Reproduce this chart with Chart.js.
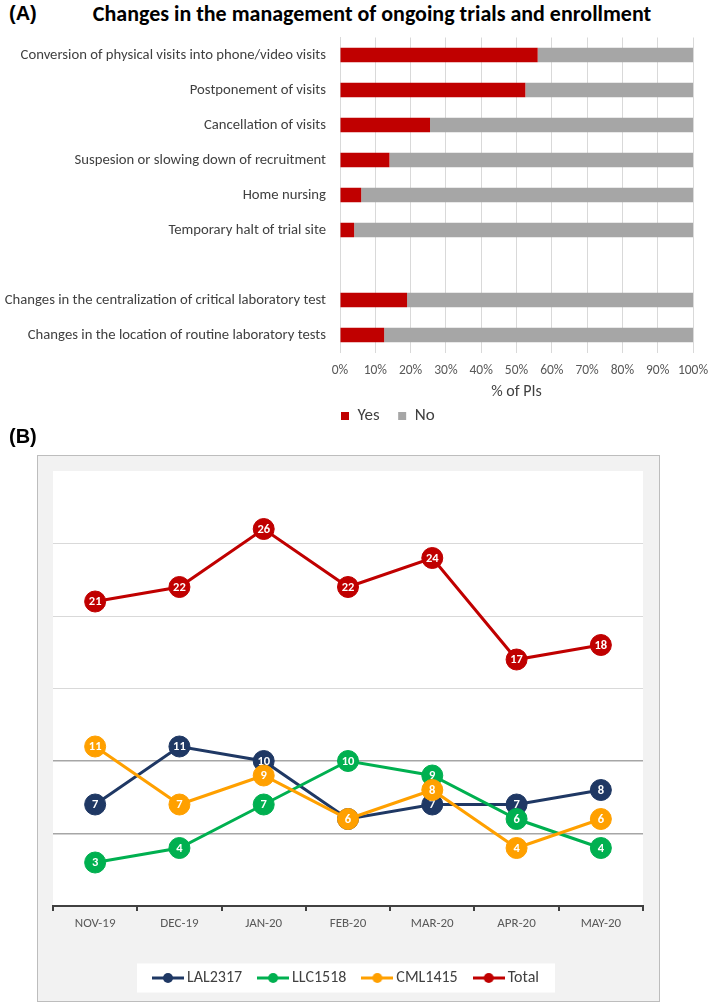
<!DOCTYPE html>
<html>
<head>
<meta charset="utf-8">
<script src="https://cdn.jsdelivr.net/npm/chart.js@4.4.1/dist/chart.umd.min.js"></script>
<style>
  body { margin: 0; background: #fff; width: 709px; height: 1003px; position: relative; overflow: hidden; }
  .tag { position: absolute; font-family: "Liberation Sans", Arial, sans-serif; font-weight: bold; font-size: 20px; color: #000; }
  #titleA { position: absolute; left: 0; top: 0; width: 744px; text-align: center; font-family: Carlito, Lato, sans-serif; font-weight: bold; font-size: 22px; color: #000; }
  #boxA { position: absolute; left: 0; top: 0; width: 709px; height: 436px; }
  #frameB { position: absolute; left: 37px; top: 455px; width: 621px; height: 545px; background: #f2f2f2; border: 1px solid #bdbdbd; }
  #boxB { position: absolute; left: 0; top: 0; width: 621px; height: 545px; }
</style>
</head>
<body>
<div class="tag" style="left:9px; top:2px;">(A)</div>
<div id="titleA">Changes in the management of ongoing trials and enrollment</div>
<div id="boxA"><canvas id="chartA"></canvas></div>
<div class="tag" style="left:9px; top:425px;">(B)</div>
<div id="frameB"><div id="boxB"><canvas id="chartB"></canvas></div></div>
<script>
const FONT = "Carlito, Lato, sans-serif";

// panel A
const measures = [
  "Conversion of physical visits into phone/video visits",
  "Postponement of visits",
  "Cancellation of visits",
  "Suspesion or slowing down of recruitment",
  "Home nursing",
  "Temporary halt of trial site",
  "",
  "Changes in the centralization of critical laboratory test",
  "Changes in the location of routine laboratory tests"
];
const yesShare = [56, 52.5, 25.5, 14, 6, 4, null, 19, 12.5];
const noShare = [44, 47.5, 74.5, 86, 94, 96, null, 81, 87.5];

// panel B
const months = ["NOV-19", "DEC-19", "JAN-20", "FEB-20", "MAR-20", "APR-20", "MAY-20"];
const lal2317 = [7, 11, 10, 6, 7, 7, 8];
const llc1518 = [3, 4, 7, 10, 9, 6, 4];
const cml1415 = [11, 7, 9, 6, 8, 4, 6];
const total = [21, 22, 26, 22, 24, 17, 18];

const colors = ["#1f3864", "#00b050", "#ffa000", "#c00000"];

// start the Yes/No legend at the left edge of the plot area
const legendUnderPlot = {
  id: "legendUnderPlot",
  afterLayout(chart) {
    chart.legend.left = chart.chartArea.left + 1 - chart.legend.options.labels.padding;
  }
};

new Chart(document.getElementById("chartA"), {
  type: "bar",
  data: {
    labels: measures,
    datasets: [
      { label: "Yes", data: yesShare, backgroundColor: "#c00000", barPercentage: 0.42, categoryPercentage: 1 },
      { label: "No", data: noShare, backgroundColor: "#a6a6a6", barPercentage: 0.42, categoryPercentage: 1 }
    ]
  },
  options: {
    indexAxis: "y",
    responsive: true,
    maintainAspectRatio: false,
    animation: false,
    layout: { padding: { left: 0, right: 16, top: 37.5, bottom: 1.5 } },
    scales: {
      x: {
        stacked: true,
        min: 0,
        max: 100,
        ticks: { stepSize: 10, callback: v => v + "%", color: "#595959", font: { family: FONT, size: 13.5 }, padding: 10, maxRotation: 0, minRotation: 0, autoSkip: false },
        grid: { color: "#d9d9d9", drawTicks: false },
        border: { display: false },
        title: { display: true, text: "% of PIs", color: "#404040", font: { family: FONT, size: 16 }, padding: { top: 0, bottom: -12.6 } },
        afterFit(scale) {
          scale.height = 36.5;
          scale.paddingLeft = 0;
          scale.paddingRight = 0;
        }
      },
      y: {
        stacked: true,
        ticks: { color: "#404040", font: { family: FONT, size: 14.7 }, padding: 14, autoSkip: false },
        grid: { display: false, drawTicks: false },
        border: { color: "#d9d9d9" },
        afterFit(scale) { scale.width = 340; }
      }
    },
    plugins: {
      legend: {
        position: "bottom",
        align: "start",
        labels: { boxWidth: 8, boxHeight: 8, padding: 18.5, color: "#404040", font: { family: FONT, size: 17 } }
      },
      tooltip: { enabled: false }
    }
  },
  plugins: [legendUnderPlot]
});

function lineMarker(color) {
  const c = document.createElement("canvas");
  c.width = 32;
  c.height = 12;
  const g = c.getContext("2d");
  g.strokeStyle = color;
  g.lineWidth = 3;
  g.beginPath(); g.moveTo(0, 6); g.lineTo(32, 6); g.stroke();
  g.fillStyle = color;
  g.beginPath(); g.arc(16, 6, 5, 0, Math.PI * 2); g.fill();
  return c;
}
const markers = colors.map(lineMarker);

const pointValues = {
  id: "pointValues",
  afterDatasetDraw(chart, args) {
    const ctx = chart.ctx;
    const ds = chart.data.datasets[args.index];
    ctx.save();
    ctx.font = "bold 12.5px " + FONT;
    ctx.fillStyle = "#ffffff";
    ctx.textAlign = "center";
    ctx.textBaseline = "middle";
    args.meta.data.forEach((pt, i) => ctx.fillText(String(ds.data[i]), pt.x, pt.y + 0.5));
    ctx.restore();
  }
};

const panelBg = {
  id: "panelBg",
  beforeDraw(chart) {
    const { ctx, chartArea: a, legend } = chart;
    ctx.save();
    ctx.fillStyle = "#ffffff";
    ctx.fillRect(a.left, a.top, a.right - a.left, a.bottom - a.top);
    const hb = legend.legendHitBoxes;
    if (hb && hb.length) {
      const l = Math.min(...hb.map(h => h.left)) - 20;
      const r = Math.max(...hb.map(h => h.left + h.width)) + 16;
      const cy = hb[0].top + hb[0].height / 2;
      ctx.fillRect(l, cy - 14.5, r - l, 29);
    }
    ctx.restore();
  }
};

function lineSet(label, data, color, order) {
  return {
    label, data, order,
    borderColor: color,
    backgroundColor: color,
    borderWidth: 3,
    pointRadius: 10.5,
    pointBorderWidth: 1,
    pointBackgroundColor: color,
    pointBorderColor: color,
    tension: 0
  };
}

new Chart(document.getElementById("chartB"), {
  type: "line",
  data: {
    labels: months,
    datasets: [
      lineSet("LAL2317", lal2317, colors[0], 4),
      lineSet("LLC1518", llc1518, colors[1], 3),
      lineSet("CML1415", cml1415, colors[2], 2),
      lineSet("Total", total, colors[3], 1)
    ]
  },
  options: {
    responsive: true,
    maintainAspectRatio: false,
    animation: false,
    layout: { padding: { left: 15, right: 16, top: 15, bottom: 5 } },
    scales: {
      x: {
        offset: true,
        grid: { offset: true, drawOnChartArea: false, drawTicks: true, tickLength: 5, color: "#404040", lineWidth: 2 },
        border: { color: "#404040", width: 2 },
        ticks: { color: "#595959", font: { family: FONT, size: 13 }, padding: 5 },
        afterFit(scale) { scale.height = 44; }
      },
      y: {
        min: 0,
        max: 30,
        ticks: { stepSize: 5, display: false },
        border: { display: false },
        grid: {
          drawTicks: false,
          color: c => (c.tick.value === 5 || c.tick.value === 10) ? "#a6a6a6"
            : (c.tick.value === 0 || c.tick.value === 30) ? "rgba(0,0,0,0)" : "#d9d9d9",
          lineWidth: c => (c.tick.value === 5 || c.tick.value === 10) ? 1.5 : 1
        },
        afterFit(scale) { scale.width = 0; }
      }
    },
    plugins: {
      legend: {
        position: "bottom",
        labels: {
          usePointStyle: true,
          pointStyleWidth: 22,
          boxHeight: 12,
          padding: 20,
          color: "#404040",
          font: { family: FONT, size: 16 },
          sort: (a, b) => a.datasetIndex - b.datasetIndex,
          generateLabels(chart) {
            const items = Chart.defaults.plugins.legend.labels.generateLabels(chart);
            items.forEach(it => { it.pointStyle = markers[it.datasetIndex]; });
            return items;
          }
        }
      },
      tooltip: { enabled: false }
    }
  },
  plugins: [panelBg, pointValues]
});
</script>
</body>
</html>
